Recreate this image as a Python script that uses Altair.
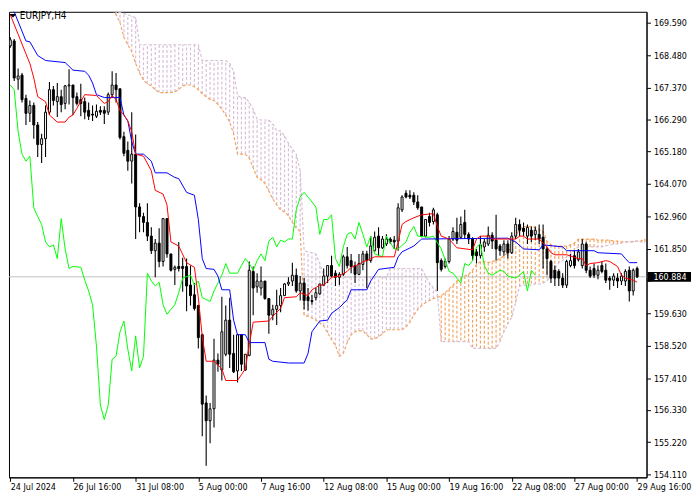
import altair as alt
import pandas as pd

FONT = "DejaVu Sans Condensed, Liberation Sans, sans-serif"

symbol_label = "EURJPY,H4"
current_price = 160.884
current_label = "160.884"

x_tick_bars = [0, 16, 32, 48, 64, 80, 96, 112, 128, 144, 160]
x_tick_labels = ["24 Jul 2024", "26 Jul 16:00", "31 Jul 08:00", "5 Aug 00:00", "7 Aug 16:00",
                 "12 Aug 08:00", "15 Aug 00:00", "19 Aug 16:00", "22 Aug 08:00", "27 Aug 00:00",
                 "29 Aug 16:00"]
y_ticks = [169.590, 168.480, 167.370, 166.290, 165.180, 164.070, 162.960, 161.850, 160.740,
           159.630, 158.520, 157.410, 156.330, 155.220, 154.110]
hidden_tick = 160.740  # covered by the current-price box

# ---- H4 candles (bar 0 = 24 Jul 2024 00:00) ----
opens = [168.80, 168.97, 167.66, 167.80, 167.00, 166.49, 166.76, 166.09, 165.42, 165.62,
         166.53, 167.30, 166.89, 167.06, 166.83, 167.43, 167.46, 167.06, 166.96, 166.89,
         166.59, 166.46, 166.39, 166.59, 166.59, 166.53, 167.13, 167.46, 167.33, 165.69,
         165.22, 164.85, 165.09, 163.28, 162.95, 162.75, 162.28, 161.78, 162.04, 161.41,
         162.88, 161.67, 161.14, 161.24, 161.24, 161.24, 160.60, 160.27, 159.90, 158.90,
         156.56, 155.95, 156.36, 158.03, 157.69, 158.23, 159.40, 158.26, 157.66, 158.90,
         157.69, 158.19, 161.07, 160.54, 160.50, 160.74, 160.14, 159.57, 159.77, 159.90,
         160.24, 160.64, 160.74, 160.94, 160.40, 160.67, 160.20, 160.07, 160.17, 160.30,
         160.60, 160.91, 161.27, 161.01, 160.87, 160.97, 161.57, 161.44, 161.27, 160.97,
         161.31, 161.67, 161.44, 161.78, 162.28, 161.88, 162.01, 162.18, 162.14, 162.11,
         163.18, 163.75, 163.68, 163.68, 163.45, 163.28, 162.28, 162.95, 162.78, 163.01,
         161.44, 161.24, 161.41, 162.18, 162.41, 162.24, 162.75, 162.34, 162.18, 161.74,
         161.61, 161.91, 162.01, 162.31, 162.14, 161.94, 161.74, 162.01, 161.71, 162.28,
         162.68, 162.55, 162.28, 162.48, 162.34, 162.34, 162.24, 161.84, 161.41, 161.11,
         161.07, 160.84, 160.60, 161.27, 161.61, 161.47, 161.27, 162.01, 161.11, 161.17,
         160.94, 161.27, 161.11, 160.84, 160.77, 160.84, 160.74, 160.74, 161.11, 160.40,
         161.17]
highs = [169.10, 169.04, 168.03, 167.87, 167.13, 166.93, 166.86, 166.19, 165.79, 166.76,
         167.56, 167.43, 167.53, 167.30, 167.46, 168.00, 167.46, 167.20, 167.50, 167.03,
         166.86, 166.76, 166.79, 166.73, 166.73, 167.20, 167.93, 167.87, 167.33, 165.86,
         165.52, 166.53, 165.76, 163.41, 163.08, 163.41, 162.58, 162.18, 162.55, 162.88,
         162.88, 161.67, 161.27, 162.08, 161.54, 161.51, 161.27, 160.67, 159.93, 158.93,
         156.82, 156.56, 158.76, 158.26, 160.20, 159.90, 160.17, 158.90, 158.90, 158.90,
         158.23, 161.41, 161.24, 161.01, 161.24, 160.74, 160.14, 159.93, 160.44, 160.50,
         160.67, 160.87, 161.37, 161.17, 160.91, 160.84, 160.50, 160.27, 160.50, 160.64,
         161.17, 161.27, 161.61, 161.11, 161.04, 161.64, 161.91, 161.67, 161.41, 161.67,
         161.78, 161.78, 162.28, 162.44, 162.58, 162.28, 162.34, 162.24, 162.28, 163.41,
         163.68, 163.85, 163.85, 163.78, 163.68, 163.28, 162.85, 163.08, 163.25, 163.08,
         161.51, 161.51, 162.28, 162.58, 162.91, 162.95, 163.18, 162.41, 162.24, 161.84,
         162.28, 162.18, 162.61, 162.41, 163.01, 162.01, 162.14, 162.14, 162.41, 162.91,
         162.85, 162.75, 162.68, 162.61, 162.61, 162.68, 162.68, 161.91, 161.47, 161.27,
         161.14, 161.01, 161.47, 161.67, 161.78, 161.84, 162.18, 162.08, 161.24, 161.34,
         161.27, 161.41, 161.34, 160.91, 161.01, 161.01, 161.01, 161.14, 161.24, 161.17,
         161.24]
lows = [168.74, 167.60, 167.30, 166.86, 166.09, 166.19, 165.62, 164.99, 164.79, 164.99,
        166.43, 166.76, 166.36, 166.53, 166.63, 166.79, 166.43, 166.76, 166.39, 166.29,
        166.26, 166.23, 166.33, 166.43, 166.12, 166.43, 167.03, 166.86, 165.59, 165.02,
        164.52, 164.08, 162.18, 162.41, 162.41, 162.11, 161.67, 160.87, 161.21, 161.24,
        161.54, 161.07, 160.60, 161.07, 160.37, 159.70, 159.90, 159.73, 158.43, 155.42,
        154.41, 155.18, 155.72, 157.63, 157.33, 158.16, 157.76, 157.59, 157.26, 157.66,
        157.66, 158.16, 159.57, 160.34, 160.24, 160.10, 158.93, 159.40, 159.23, 159.67,
        160.24, 160.57, 160.57, 160.34, 160.07, 159.77, 159.73, 159.93, 160.07, 160.27,
        160.57, 160.67, 160.87, 160.57, 160.60, 160.91, 161.17, 161.01, 160.67, 160.94,
        161.11, 160.50, 161.37, 161.74, 161.61, 161.84, 161.94, 162.01, 161.84, 161.78,
        163.11, 163.58, 163.55, 163.35, 163.18, 162.24, 162.24, 162.61, 162.68, 160.40,
        161.07, 161.17, 161.34, 162.11, 162.01, 162.18, 162.18, 162.01, 161.44, 161.34,
        161.51, 161.74, 161.94, 161.84, 161.44, 161.61, 161.61, 161.51, 161.67, 162.18,
        162.28, 162.28, 162.01, 162.08, 162.14, 162.01, 161.17, 160.94, 160.67, 160.57,
        160.57, 160.50, 160.50, 161.21, 161.17, 161.41, 161.17, 161.01, 160.84, 160.84,
        160.80, 161.01, 160.67, 160.44, 160.57, 160.50, 160.60, 160.57, 160.04, 160.24,
        160.84]
closes = [169.01, 167.70, 167.77, 166.96, 166.49, 166.76, 166.09, 165.42, 165.62, 166.53,
          167.30, 166.93, 167.06, 166.79, 167.43, 167.46, 167.03, 166.83, 166.83, 166.53,
          166.39, 166.43, 166.56, 166.53, 166.49, 167.13, 167.46, 167.30, 165.66, 165.12,
          164.85, 165.09, 163.28, 162.95, 162.75, 162.28, 161.78, 162.04, 161.41, 162.88,
          161.67, 161.11, 161.21, 161.17, 161.17, 160.57, 160.24, 159.80, 158.80, 156.52,
          155.95, 156.36, 158.03, 157.89, 159.00, 159.40, 158.23, 157.63, 158.90, 157.89,
          158.23, 161.11, 160.50, 160.74, 160.74, 160.14, 159.57, 159.77, 159.90, 160.24,
          160.64, 160.70, 160.94, 160.40, 160.67, 160.07, 160.07, 160.04, 160.34, 160.64,
          160.91, 161.27, 160.91, 160.87, 160.97, 161.57, 161.27, 161.24, 160.97, 161.34,
          161.67, 161.44, 161.94, 162.24, 161.88, 162.18, 162.18, 162.08, 162.08, 163.25,
          163.62, 163.62, 163.62, 163.45, 163.25, 162.28, 162.85, 162.75, 163.18, 161.37,
          161.14, 161.41, 162.18, 162.44, 162.14, 162.68, 162.34, 162.18, 161.61, 161.61,
          161.98, 162.08, 162.31, 162.11, 161.84, 161.78, 162.01, 161.71, 162.28, 162.68,
          162.48, 162.44, 162.58, 162.28, 162.48, 162.18, 161.84, 161.51, 160.84, 160.84,
          160.84, 160.60, 161.41, 161.44, 161.27, 161.74, 162.01, 161.11, 160.91, 160.94,
          161.11, 161.07, 160.77, 160.77, 160.91, 160.74, 160.91, 161.07, 160.40, 161.11,
          160.884]

# ---- Ichimoku lines (vertices: bar index, price) ----
tenkan_bars = [0, 2, 4, 5, 6, 7, 9, 10, 12, 14, 15, 16, 17, 19, 22, 23, 24, 25, 26, 27, 28, 29,
               30, 31, 32, 34, 36, 37, 39, 40, 41, 43, 45, 47, 48, 49, 50, 52, 54, 55, 58, 59,
               60, 61, 62, 66, 67, 69, 70, 73, 74, 76, 77, 79, 80, 82, 84, 86, 87, 89, 90, 91,
               93, 98, 99, 100, 101, 103, 105, 108, 109, 110, 112, 114, 118, 119, 120, 122,
               123, 129, 130, 131, 132, 135, 137, 138, 139, 142, 145, 146, 147, 148, 150, 152,
               153, 155, 156, 157, 159, 160]
tenkan_vals = [169.87, 169.20, 168.53, 168.20, 167.70, 167.06, 166.89, 166.43, 166.19, 166.19,
               166.36, 166.43, 166.66, 167.13, 167.10, 166.96, 166.83, 166.89, 167.10, 166.96,
               166.59, 166.43, 166.23, 165.86, 165.09, 165.02, 164.52, 163.85, 163.72, 163.35,
               162.08, 161.94, 161.37, 161.21, 160.17, 158.83, 157.99, 157.99, 157.73, 157.33,
               157.33, 157.53, 157.73, 158.56, 159.33, 159.37, 159.53, 159.80, 160.17, 160.20,
               160.34, 160.24, 160.44, 160.60, 160.60, 160.87, 160.91, 161.07, 161.21, 161.31,
               161.41, 161.44, 161.57, 161.57, 162.08, 162.68, 162.78, 162.91, 163.01, 163.05,
               162.61, 162.28, 162.18, 161.88, 161.81, 162.18, 162.28, 162.28, 162.18, 162.18,
               162.28, 162.28, 162.18, 162.18, 161.91, 161.71, 161.64, 161.64, 161.51, 161.51,
               161.27, 161.34, 161.37, 161.44, 161.41, 161.24, 160.94, 160.84, 160.77, 160.70]

kijun_bars = [0, 1, 4, 5, 7, 9, 14, 16, 19, 20, 21, 22, 24, 28, 29, 30, 31, 32, 34, 36, 37,
              40, 42, 43, 45, 47, 48, 49, 50, 52, 53, 54, 56, 57, 58, 60, 61, 65, 66, 67, 71,
              75, 76, 77, 79, 81, 82, 84, 86, 87, 91, 92, 94, 98, 99, 100, 103, 105, 127, 129,
              131, 135, 136, 141, 142, 149, 150, 156, 157, 158, 160]
kijun_vals = [170.15, 169.97, 168.97, 168.94, 168.47, 168.30, 168.23, 167.97, 167.93, 167.80,
              167.53, 167.13, 167.03, 167.03, 166.43, 166.23, 165.52, 165.09, 165.09, 164.85,
              164.45, 164.45, 164.29, 164.25, 163.78, 163.68, 162.85, 161.51, 161.17, 161.14,
              160.91, 160.44, 160.44, 159.40, 158.90, 158.90, 158.63, 158.63, 158.06, 157.99,
              157.93, 157.93, 158.26, 159.00, 159.37, 159.40, 159.63, 159.83, 160.10, 160.44,
              160.44, 160.74, 161.14, 161.21, 161.57, 161.74, 161.94, 162.18, 162.21, 162.08,
              161.84, 161.81, 161.98, 161.91, 161.78, 161.78, 161.71, 161.67, 161.51, 161.37,
              161.37]

chikou_bars = [0, 1, 2, 3, 4, 5, 6, 7, 8, 9, 10, 11, 12, 13, 14, 15, 16, 18, 19, 20,
               21, 22, 23, 24, 25, 26, 27, 28, 29, 30, 31, 32, 33, 34, 35, 36, 37, 38, 39, 40,
               42, 43, 44, 46, 47, 48, 49, 51, 52, 54, 55, 56, 58, 59, 60, 61, 62, 63, 64, 65,
               66, 67, 68, 69, 70, 71, 72, 73, 74, 75, 76, 78, 79, 80, 81, 82, 83, 84, 85, 86,
               87, 88, 89, 90, 91, 92, 93, 95, 96, 98, 99, 101, 102, 103, 104, 107, 108, 110,
               111, 112, 113, 114, 115, 116, 117, 118, 119, 120, 121, 122, 123, 125, 126, 127,
               129, 130, 131, 132, 133, 134]
chikou_vals = [167.46, 167.30, 165.86, 165.09, 164.85, 165.02, 163.25, 162.95, 162.68, 162.08,
               161.91, 161.98, 161.51, 162.88, 161.84, 161.17, 161.24, 161.21, 160.77, 160.40,
               159.93, 158.50, 156.49, 155.99, 156.49, 158.06, 158.16, 159.00, 159.37, 158.40,
               157.66, 158.86, 157.76, 158.16, 161.01, 160.74, 160.57, 160.70, 159.93, 159.60,
               159.93, 160.34, 160.84, 160.94, 160.60, 160.74, 160.17, 160.04, 160.40, 160.94,
               161.34, 161.01, 161.01, 161.27, 161.51, 161.34, 161.11, 161.44, 161.67, 161.44,
               162.11, 162.24, 161.91, 162.14, 162.08, 162.18, 162.18, 163.18, 163.62, 163.78,
               163.62, 163.28, 162.34, 162.85, 162.85, 163.01, 161.51, 161.24, 161.91, 162.34,
               162.41, 162.18, 162.75, 162.34, 161.91, 162.28, 161.67, 161.57, 162.28, 161.84,
               161.84, 162.08, 162.41, 162.61, 162.28, 162.24, 162.28, 161.84, 161.47, 161.07,
               161.01, 160.84, 160.67, 161.34, 161.27, 161.44, 161.91, 162.01, 161.27, 161.01,
               160.94, 161.11, 161.07, 160.91, 160.84, 160.94, 161.07, 160.40, 161.11, 160.94]

# ---- Senkou spans, one value per bar from bar 26 to bar 162 ----
span_start = 26
span_a = [170.04, 169.87, 169.60, 169.10, 168.84, 168.60, 168.20, 167.87, 167.63, 167.50,
          167.43, 167.30, 167.20, 167.20, 167.20, 167.20, 167.23, 167.30, 167.43, 167.46,
          167.46, 167.40, 167.30, 167.16, 167.06, 166.96, 166.93, 166.79, 166.63, 166.43,
          166.19, 165.79, 165.09, 165.09, 165.09, 164.95, 164.62, 164.29, 164.22, 164.08,
          163.82, 163.55, 163.35, 163.18, 163.11, 162.98, 162.75, 162.55, 162.44, 159.57,
          159.53, 159.47, 159.40, 159.30, 159.20, 158.96, 158.73, 158.53, 158.16, 158.26,
          158.63, 158.90, 159.00, 159.03, 159.03, 158.90, 158.76, 158.76, 158.83, 158.93,
          159.07, 159.07, 159.07, 159.07, 159.07, 159.17, 159.33, 159.57, 159.77, 159.90,
          160.00, 160.07, 160.14, 160.17, 160.24, 160.34, 160.47, 160.60, 160.74, 160.84,
          160.91, 160.97, 161.11, 161.31, 161.41, 161.41, 161.37, 161.41, 161.44, 161.51,
          161.61, 161.71, 161.94, 162.28, 162.51, 162.61, 162.61, 162.61, 162.58, 162.51,
          162.44, 162.11, 161.98, 161.94, 161.94, 161.94, 161.94, 161.98, 162.04, 162.18,
          162.18, 162.18, 162.18, 162.18, 162.14, 162.14, 162.14, 162.14, 162.11, 162.11,
          162.08, 162.08, 162.08, 162.08, 162.11, 162.11, 162.18]
span_b = [170.37, 169.97, 169.94, 169.91, 169.87, 169.81, 169.77, 168.84, 168.84, 168.84,
          168.84, 168.84, 168.84, 168.84, 168.84, 168.84, 168.84, 168.84, 168.84, 168.84,
          168.84, 168.84, 168.84, 168.30, 168.30, 168.30, 168.30, 168.30, 168.30, 168.30,
          168.20, 167.93, 167.10, 167.03, 167.03, 166.86, 166.63, 166.29, 166.26, 166.26,
          166.26, 166.12, 165.89, 165.89, 165.72, 165.46, 165.26, 165.09, 164.52, 161.78,
          161.74, 161.71, 161.67, 161.34, 160.94, 160.87, 160.87, 160.87, 160.87, 160.87,
          160.87, 160.87, 160.87, 160.87, 160.87, 160.87, 160.87, 160.87, 160.87, 160.87,
          160.87, 161.17, 161.17, 161.17, 161.17, 161.17, 161.17, 161.17, 161.17, 161.17,
          160.91, 160.67, 160.50, 160.34, 158.66, 158.66, 158.66, 158.66, 158.66, 158.66,
          158.66, 158.66, 158.43, 158.43, 158.43, 158.43, 158.43, 158.43, 158.43, 158.66,
          159.00, 159.27, 159.50, 160.00, 160.57, 160.60, 160.60, 160.60, 160.64, 160.64,
          160.67, 160.74, 160.94, 161.17, 161.37, 161.44, 161.57, 161.67, 161.81, 161.91,
          161.91, 161.91, 161.91, 161.91, 161.91, 161.91, 161.94, 161.98, 162.01, 162.01,
          162.04, 162.08, 162.08, 162.11, 162.11, 162.08, 162.04]

# ---- tables ----
n = len(opens)
candles = pd.DataFrame({"bar": list(range(n)), "open": opens, "high": highs,
                        "low": lows, "close": closes})
candles["fillcol"] = ["white" if c >= o else "black" for o, c in zip(opens, closes)]

cloud = pd.DataFrame({"bar": list(range(span_start, span_start + len(span_a))),
                      "a": span_a, "b": span_b})
cloud["col"] = ["#D8BFD8" if b > a else "#F4A460" for a, b in zip(span_a, span_b)]

tenkan = pd.DataFrame({"bar": tenkan_bars, "v": tenkan_vals})
kijun = pd.DataFrame({"bar": kijun_bars, "v": kijun_vals})
chikou = pd.DataFrame({"bar": chikou_bars, "v": chikou_vals})
price_df = pd.DataFrame({"bar": [80], "price": [current_price], "label": [current_label]})
header_df = pd.DataFrame({"bar": [0], "price": [169.9], "t": [symbol_label]})

W, H = 645, 471
XS = alt.Scale(domain=[-0.33, 162.4], nice=False, zero=False)
YS = alt.Scale(domain=[154.01, 169.97], nice=False, zero=False)

label_js = "[" + ",".join("'%s'" % s for s in x_tick_labels) + "]"
x_axis = alt.Axis(values=x_tick_bars, labelExpr=label_js + "[round(datum.value/16)]",
                  title=None, grid=False, labelAlign="left", labelPadding=1, tickSize=4,
                  labelFlush=False, labelOverlap=False, orient="bottom")
y_axis = alt.Axis(values=y_ticks, orient="right", title=None, grid=False,
                  labelExpr="abs(datum.value - %s) < 0.001 ? '' : format(datum.value, '.3f')"
                            % hidden_tick,
                  labelAlign="left", labelBaseline="middle", labelPadding=3, tickSize=4,
                  labelFlush=False, labelOverlap=False)


def X():
    return alt.X("bar:Q", scale=XS, axis=x_axis)


def Y(field):
    return alt.Y(field, type="quantitative", scale=YS, axis=y_axis)


hatch = alt.Chart(cloud).mark_rule(strokeDash=[3, 2], strokeWidth=1.2, clip=True).encode(
    x=X(), y=Y("a"), y2=alt.Y2("b"), color=alt.Color("col:N", scale=None))
a_line = alt.Chart(cloud).mark_line(color="#F4A460", strokeDash=[3, 2], strokeWidth=1.2,
                                    clip=True).encode(x=X(), y=Y("a"))
b_line = alt.Chart(cloud).mark_line(color="#D8BFD8", strokeDash=[3, 2], strokeWidth=1.2,
                                    clip=True).encode(x=X(), y=Y("b"))
price_line = alt.Chart(price_df).mark_rule(color="#C0C0C0", strokeWidth=1).encode(
    y=Y("price"))
wicks = alt.Chart(candles).mark_rule(color="black", strokeWidth=1.1, clip=True).encode(
    x=X(), y=Y("low"), y2=alt.Y2("high"))
bodies = alt.Chart(candles).mark_rect(xOffset=-1, x2Offset=1, stroke="black", strokeWidth=1,
                                      clip=True).encode(
    x=X(), x2=alt.X2("bar"), y=Y("open"), y2=alt.Y2("close"),
    fill=alt.Fill("fillcol:N", scale=None))
chikou_line = alt.Chart(chikou).mark_line(color="#00FF00", strokeWidth=1, clip=True).encode(
    x=X(), y=Y("v"))
kijun_line = alt.Chart(kijun).mark_line(color="#0000FF", strokeWidth=1, clip=True).encode(
    x=X(), y=Y("v"))
tenkan_line = alt.Chart(tenkan).mark_line(color="#FF0000", strokeWidth=1, clip=True).encode(
    x=X(), y=Y("v"))
price_box = alt.Chart(price_df).mark_rect(color="black", yOffset=-5, y2Offset=5).encode(
    x=alt.value(W + 1), x2=alt.value(W + 45), y=Y("price"), y2=alt.Y2("price"))
price_text = alt.Chart(price_df).mark_text(align="left", baseline="middle", color="white",
                                           font=FONT, fontSize=9).encode(
    x=alt.value(W + 7), y=Y("price"), text="label:N")
tri = alt.Chart(header_df).mark_point(shape="M-1,-0.5L1,-0.5L0,0.5Z", filled=True,
                                      color="black", size=49, opacity=1).encode(
    x=alt.value(4), y=alt.value(4))
header = alt.Chart(header_df).mark_text(align="left", baseline="middle", font=FONT,
                                        fontSize=10, color="black").encode(
    x=alt.value(11), y=alt.value(4), text="t:N")

chart = alt.layer(hatch, a_line, b_line, price_line, wicks, bodies, chikou_line, kijun_line,
                  tenkan_line, price_box, price_text, tri, header).properties(
    width=W, height=H, background="white", padding=0
).configure_view(stroke="black", strokeWidth=1).configure_axis(
    labelFont=FONT, labelFontSize=9, labelColor="black", tickColor="black",
    domainColor="black", domainWidth=1, tickWidth=1)

chart.save("out.html", embed_options={"renderer": "svg", "actions": False})
